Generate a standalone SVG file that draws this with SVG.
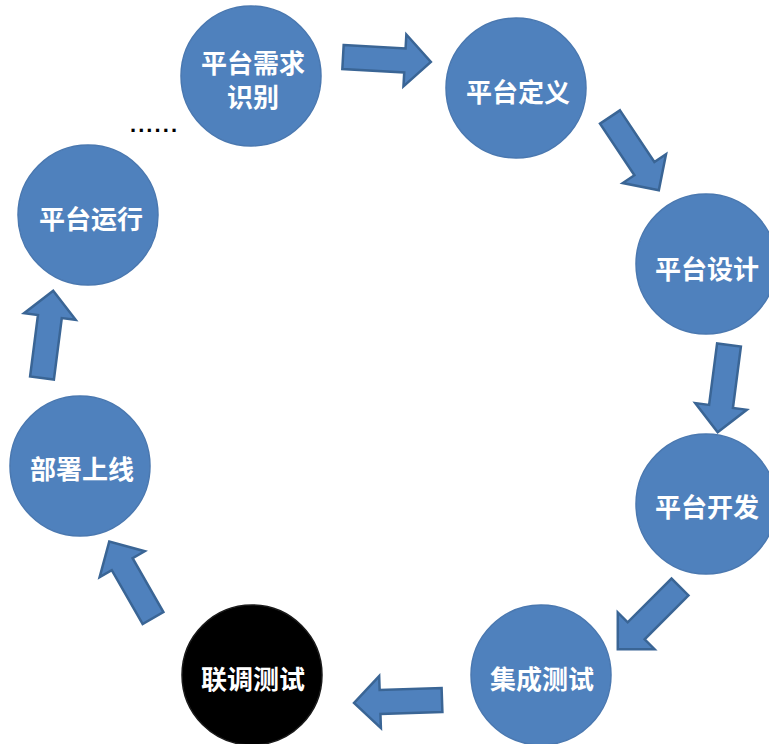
<svg xmlns="http://www.w3.org/2000/svg" xmlns:xlink="http://www.w3.org/1999/xlink" width="769" height="744" viewBox="0 0 769 744">
<style>
.node{fill:#4F81BD;stroke:#4A78B0;stroke-width:1.5}
.dark{fill:#000000;stroke:#1a1a1a;stroke-width:1.5}
.lbl{font-family:"Noto Sans CJK SC","Noto Sans",sans-serif;font-size:26px;font-weight:bold;fill:#FFFFFF;text-anchor:middle}
.arr{fill:#4F81BD;stroke:#3A6595;stroke-width:2.5;stroke-linejoin:miter}
</style>
<defs>
<path id="blk" d="M0,-12 L62,-12 L62,-26 L88,0 L62,26 L62,12 L0,12 Z"/>
</defs>
<rect width="769" height="744" fill="#FFFFFF"/>
<g id="connectors">
<use xlink:href="#blk" class="arr" transform="translate(343,57) rotate(3.2)"/>
<use xlink:href="#blk" class="arr" transform="translate(610,117) rotate(56.3)"/>
<use xlink:href="#blk" class="arr" transform="translate(729,345) rotate(97.4)"/>
<use xlink:href="#blk" class="arr" transform="translate(680,587) rotate(135)"/>
<use xlink:href="#blk" class="arr" transform="translate(442,700) rotate(178.1)"/>
<use xlink:href="#blk" class="arr" transform="translate(153,618) rotate(240.2)"/>
<use xlink:href="#blk" class="arr" transform="translate(42,378) rotate(-82.7)"/>
</g>
<g id="n1"><ellipse class="node" cx="251" cy="76" rx="70" ry="70"/><text class="lbl" x="253" y="73">平台需求</text><text class="lbl" x="253" y="107">识别</text></g>
<g id="n2"><ellipse class="node" cx="516" cy="88" rx="70" ry="70"/><text class="lbl" x="518" y="102">平台定义</text></g>
<g id="n3"><ellipse class="node" cx="706" cy="264" rx="70" ry="70"/><text class="lbl" x="707" y="279">平台设计</text></g>
<g id="n4"><ellipse class="node" cx="706" cy="504" rx="70" ry="70"/><text class="lbl" x="707" y="517">平台开发</text></g>
<g id="n5"><ellipse class="node" cx="541" cy="675" rx="70" ry="70"/><text class="lbl" x="542" y="689">集成测试</text></g>
<g id="n6"><ellipse class="dark" cx="252" cy="675" rx="70" ry="70"/><text class="lbl" x="253" y="689">联调测试</text></g>
<g id="n7"><ellipse class="node" cx="80" cy="466" rx="70" ry="70"/><text class="lbl" x="82" y="479">部署上线</text></g>
<g id="n8"><ellipse class="node" cx="88" cy="215" rx="70" ry="70"/><text class="lbl" x="91" y="229">平台运行</text></g>
<text x="130" y="132" font-family="Liberation Sans,sans-serif" font-size="22" font-weight="bold" fill="#000000" textLength="47" lengthAdjust="spacing">......</text>
</svg>
